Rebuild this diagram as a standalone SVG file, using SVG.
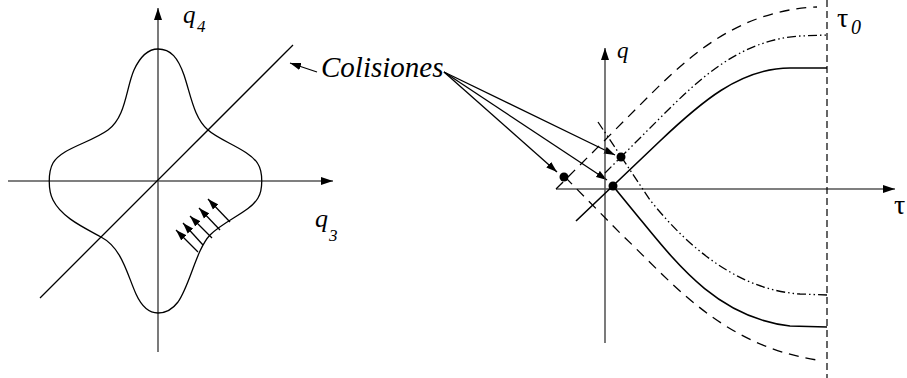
<svg xmlns="http://www.w3.org/2000/svg" width="907" height="378" viewBox="0 0 907 378">
<style>
.ax{stroke:#555;stroke-width:1.7;fill:none}
.axv{stroke:#333;stroke-width:1.3;fill:none}
.ln{stroke:#000;stroke-width:1.3;fill:none}
.sol{stroke:#000;stroke-width:1.6;fill:none}
.dash{stroke:#000;stroke-width:1.3;fill:none;stroke-dasharray:10,7}
.dd{stroke:#000;stroke-width:1.3;fill:none;stroke-dasharray:9,3,1.5,3,1.5,3}
.vd{stroke:#000;stroke-width:1.2;fill:none;stroke-dasharray:7,4}
.it{font-family:"Liberation Serif","Times New Roman",serif;font-style:italic;fill:#000}
.up{font-family:"Liberation Serif","Times New Roman",serif;fill:#000}
</style>
<defs>
<marker id="ah" viewBox="0 0 12 8" refX="12" refY="4" markerWidth="12" markerHeight="8" orient="auto" markerUnits="userSpaceOnUse"><path d="M0,0 L12,4 L0,8 z" fill="#000"/></marker>
<marker id="ahs" viewBox="0 0 12 8" refX="12" refY="4" markerWidth="11" markerHeight="8" orient="auto" markerUnits="userSpaceOnUse"><path d="M0,0 L12,4 L0,8 z" fill="#000"/></marker>
</defs>

<g id="left-axes">
<line class="axv" x1="158" y1="352" x2="158" y2="8" marker-end="url(#ah)"/>
<line class="ax" x1="8" y1="181" x2="333" y2="181" marker-end="url(#ah)"/>
<line class="ln" x1="40" y1="298" x2="293" y2="45"/>
</g>

<g id="star-curve">
<path class="ln" d="M158,49 C171,49 178,58 184,75 C191,96 194,118 208,130 C220,141 250,150 258,164 C263,172 263,190 258,198 C250,212 225,220 210,235 C196,250 190,285 178,302 C172,310 165,313 158,313 C148,313 141,305 136,294 C127,274 122,248 101,237 C85,228 62,218 53,200 C48,190 48,172 53,163 C62,148 90,143 108,130 C126,117 126,88 134,70 C140,57 148,49 158,49 Z"/>
</g>

<g id="small-arrows">
<line class="ln" x1="230" y1="222" x2="208" y2="199" marker-end="url(#ahs)"/>
<line class="ln" x1="220" y1="230" x2="199" y2="208" marker-end="url(#ahs)"/>
<line class="ln" x1="212" y1="238" x2="190" y2="216" marker-end="url(#ahs)"/>
<line class="ln" x1="203" y1="245" x2="183" y2="223" marker-end="url(#ahs)"/>
<line class="ln" x1="198" y1="252" x2="176" y2="230" marker-end="url(#ahs)"/>
</g>

<g id="left-labels">
<text class="it" x="183" y="23" font-size="25">q</text>
<text class="it" x="197" y="32" font-size="17">4</text>
<text class="it" x="315" y="227" font-size="26">q</text>
<text class="it" x="329" y="241" font-size="17">3</text>
</g>

<g id="colisiones">
<text class="it" x="321" y="77" font-size="29">Colisiones</text>
</g>

<g id="connectors">
<line class="ln" x1="317" y1="72" x2="290" y2="63" marker-end="url(#ahs)"/>
<line class="ln" x1="444" y1="72" x2="615" y2="155" marker-end="url(#ahs)"/>
<line class="ln" x1="444" y1="72" x2="607" y2="180" marker-end="url(#ahs)"/>
<line class="ln" x1="444" y1="72" x2="557" y2="172" marker-end="url(#ahs)"/>
</g>

<g id="right-axes">
<line class="axv" x1="605" y1="343" x2="605" y2="48" marker-end="url(#ah)"/>
<line class="ax" x1="556" y1="189" x2="895" y2="189" marker-end="url(#ah)"/>
<line class="vd" x1="827" y1="0" x2="827" y2="378"/>
</g>

<g id="trajectories">
<path class="sol" d="M576,221 L660,141 C700,103 740,68 790,68 L827,68"/>
<path class="sol" d="M613,186 L640,219 C680,268 720,318 790,326 L827,327"/>
<path class="dd" d="M605,173 L660,118 C700,78 740,40 800,36 L827,35"/>
<path class="dd" d="M598,122 L650,200 C690,250 740,290 800,294 L827,295"/>
<path class="dash" d="M556,189 L650,95 C690,55 740,10 817,7"/>
<path class="dash" d="M565,177 L620,233 C670,280 720,345 817,360"/>
</g>

<g id="collision-points">
<circle cx="564" cy="177" r="4.5" fill="#000"/>
<circle cx="621" cy="157" r="4.5" fill="#000"/>
<circle cx="613" cy="186" r="4.5" fill="#000"/>
</g>

<g id="right-labels">
<text class="it" x="617" y="58" font-size="23">q</text>
<text class="up" x="837" y="27" font-size="28">τ</text>
<text class="it" x="851" y="34" font-size="20">0</text>
<text class="up" x="894" y="214" font-size="28">τ</text>
</g>
</svg>
